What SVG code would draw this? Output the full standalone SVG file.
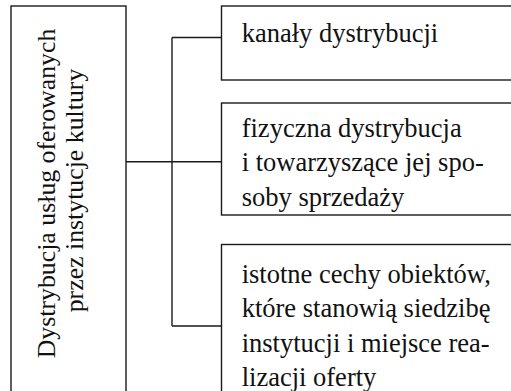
<svg xmlns="http://www.w3.org/2000/svg" width="511" height="391" viewBox="0 0 511 391">
<style>
.box{fill:#fff;stroke:#1a1a1a;stroke-width:1.4}
.t{font-family:"Liberation Serif","Times New Roman",serif;font-size:26.5px;fill:#111}
.c{fill:none;stroke:#1a1a1a;stroke-width:1.4}
</style>
<rect width="511" height="391" fill="#fff"/>
<g id="connectors">
<path class="c" d="M126 161.7H221.5M172 37.5V326M172 37.5H221.5M172 326H221.5"/>
</g>
<g id="main">
<rect class="box" x="11" y="6" width="115" height="400"/>
<text class="t" transform="translate(55,193.5) rotate(-90)" text-anchor="middle" style="font-size:25.8px">Dystrybucja usług oferowanych</text>
<text class="t" transform="translate(83,190.5) rotate(-90)" text-anchor="middle" style="font-size:25.8px">przez instytucje kultury</text>
</g>
<g id="box1">
<rect class="box" x="221.5" y="6" width="300" height="74"/>
<text class="t" x="241.7" y="42">kanały dystrybucji</text>
</g>
<g id="box2">
<rect class="box" x="221.5" y="103" width="300" height="112"/>
<text class="t" x="241.7" y="136.7">fizyczna dystrybucja</text>
<text class="t" x="241.7" y="171.2">i towarzyszące jej spo-</text>
<text class="t" x="241.7" y="205.7">soby sprzedaży</text>
</g>
<g id="box3">
<rect class="box" x="221.5" y="244.5" width="300" height="200"/>
<text class="t" x="241.7" y="282.5">istotne cechy obiektów,</text>
<text class="t" x="241.7" y="317">które stanowią siedzibę</text>
<text class="t" x="241.7" y="351.5">instytucji i miejsce rea-</text>
<text class="t" x="241.7" y="386">lizacji oferty</text>
</g>
</svg>
